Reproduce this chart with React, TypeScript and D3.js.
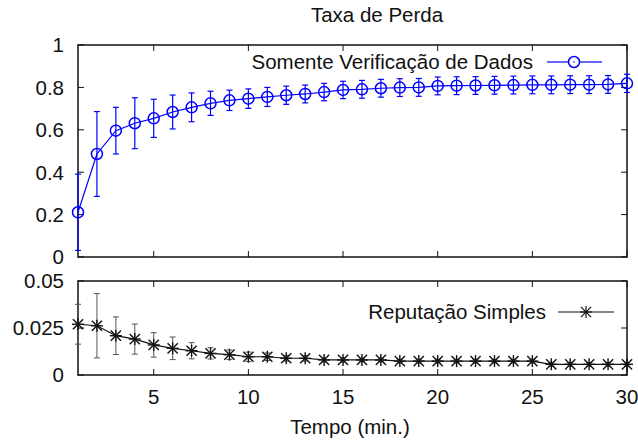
import React from "react";
import * as d3 from "d3";

// Minutes on the x axis
const minutes = [1, 2, 3, 4, 5, 6, 7, 8, 9, 10, 11, 12, 13, 14, 15, 16, 17, 18, 19, 20, 21, 22, 23, 24, 25, 26, 27, 28, 29, 30];

// "Somente Verificação de Dados": mean loss rate and error half-width
const verificacao = [0.211, 0.486, 0.596, 0.631, 0.654, 0.684, 0.706, 0.725, 0.739, 0.747, 0.755, 0.763, 0.769, 0.778, 0.788, 0.791, 0.796, 0.799, 0.800, 0.807, 0.808, 0.809, 0.810, 0.811, 0.812, 0.812, 0.813, 0.813, 0.814, 0.819];
const verificacaoErr = [0.18, 0.2, 0.11, 0.12, 0.09, 0.08, 0.068, 0.057, 0.048, 0.046, 0.045, 0.043, 0.042, 0.041, 0.041, 0.042, 0.042, 0.042, 0.042, 0.042, 0.042, 0.042, 0.042, 0.042, 0.042, 0.042, 0.042, 0.042, 0.042, 0.043];

// "Reputação Simples": mean loss rate and error half-width
const reputacao = [0.027, 0.0262, 0.0209, 0.0191, 0.016, 0.0142, 0.0129, 0.0115, 0.0108, 0.0097, 0.0097, 0.0089, 0.0089, 0.008, 0.008, 0.008, 0.008, 0.0074, 0.0074, 0.0074, 0.0074, 0.0074, 0.0074, 0.0074, 0.0074, 0.0057, 0.0057, 0.0057, 0.0057, 0.0057];
const reputacaoErr = [0.0106, 0.0171, 0.01, 0.008, 0.0065, 0.006, 0.0043, 0.003, 0.0025, 0.0025, 0.002, 0.0015, 0.0015, 0.0012, 0.0012, 0.001, 0.001, 0.001, 0.001, 0.001, 0.001, 0.001, 0.001, 0.001, 0.001, 0.001, 0.001, 0.001, 0.001, 0.001];

const xTicks = [5, 10, 15, 20, 25, 30];
const topTicks = [0, 0.2, 0.4, 0.6, 0.8, 1];
const bottomTicks = [0, 0.025, 0.05];

const W = 638;
const H = 441;
const FONT = "'Liberation Sans', Arial, Helvetica, sans-serif";
const FS = 20.5;
const TICK = 6;
const BLUE = "#0000ff";

const x = d3.scaleLinear().domain([1, 30]).range([78, 627]);
const yTop = d3.scaleLinear().domain([0, 1]).range([257, 45]);
const yBot = d3.scaleLinear().domain([0, 0.05]).range([375, 281]);

function Frame({ y, yTicks, fmt, showX }: { y: d3.ScaleLinear<number, number>; yTicks: number[]; fmt: (v: number) => string; showX: boolean }) {
  const [x0, x1] = x.range();
  const [yb, yt] = y.range();
  return (
    <g>
      <rect x={x0} y={yt} width={x1 - x0} height={yb - yt} fill="none" stroke="#111" strokeWidth={1.5} />
      {xTicks.map((t) => (
        <g key={"x" + t}>
          <line x1={x(t)} x2={x(t)} y1={yb} y2={yb - TICK} stroke="#111" />
          <line x1={x(t)} x2={x(t)} y1={yt} y2={yt + TICK} stroke="#111" />
          {showX && (
            <text x={x(t)} y={yb + 29} textAnchor="middle" fontSize={FS} fontFamily={FONT} fill="#111">
              {t}
            </text>
          )}
        </g>
      ))}
      {yTicks.map((t) => (
        <g key={"y" + t}>
          <line x1={x0} x2={x0 + TICK} y1={y(t)} y2={y(t)} stroke="#111" />
          <line x1={x1} x2={x1 - TICK} y1={y(t)} y2={y(t)} stroke="#111" />
          <text x={x0 - 14} y={y(t)} dy="0.36em" textAnchor="end" fontSize={FS} fontFamily={FONT} fill="#111">
            {fmt(t)}
          </text>
        </g>
      ))}
    </g>
  );
}

function ErrorBars({ vals, errs, y, color, width }: { vals: number[]; errs: number[]; y: d3.ScaleLinear<number, number>; color: string; width: number }) {
  return (
    <g stroke={color} strokeWidth={width} fill="none">
      {minutes.map((m, i) => {
        const cx = x(m);
        const lo = y(vals[i] - errs[i]);
        const hi = y(vals[i] + errs[i]);
        return (
          <g key={m}>
            <line x1={cx} x2={cx} y1={lo} y2={hi} />
            <line x1={cx - 3} x2={cx + 3} y1={lo} y2={lo} />
            <line x1={cx - 3} x2={cx + 3} y1={hi} y2={hi} />
          </g>
        );
      })}
    </g>
  );
}

function Star({ cx, cy, s }: { cx: number; cy: number; s: number }) {
  const d = s * 0.85;
  return (
    <g>
      <line x1={cx - s} x2={cx + s} y1={cy} y2={cy} />
      <line x1={cx} x2={cx} y1={cy - s} y2={cy + s} />
      <line x1={cx - d} x2={cx + d} y1={cy - d} y2={cy + d} />
      <line x1={cx - d} x2={cx + d} y1={cy + d} y2={cy - d} />
    </g>
  );
}

export default function App() {
  const lineTop = d3
    .line<number>()
    .x((_, i) => x(minutes[i]))
    .y((v) => yTop(v));
  const lineBot = d3
    .line<number>()
    .x((_, i) => x(minutes[i]))
    .y((v) => yBot(v));

  const fmt = (v: number) => d3.format("~g")(v);

  return (
    <svg width={W} height={H} style={{ position: "absolute", left: 0, top: 0, background: "#fff" }}>
      <rect width={W} height={H} fill="#fff" />
      <text x={377} y={22} textAnchor="middle" fontSize={FS} fontFamily={FONT} fill="#111">
        Taxa de Perda
      </text>

      {/* upper panel */}
      <Frame y={yTop} yTicks={topTicks} fmt={fmt} showX={false} />
      <ErrorBars vals={verificacao} errs={verificacaoErr} y={yTop} color={BLUE} width={1.2} />
      <path d={lineTop(verificacao) || ""} fill="none" stroke={BLUE} strokeWidth={1.2} />
      <g fill="none" stroke={BLUE} strokeWidth={1.5}>
        {verificacao.map((v, i) => (
          <circle key={i} cx={x(minutes[i])} cy={yTop(v)} r={5.5} />
        ))}
      </g>
      <text x={533} y={62} dy="0.36em" textAnchor="end" fontSize={FS} fontFamily={FONT} fill="#111">
        Somente Verificação de Dados
      </text>
      <g stroke={BLUE} strokeWidth={1.2} fill="none">
        <line x1={547} x2={568.5} y1={62} y2={62} />
        <line x1={579.5} x2={602} y1={62} y2={62} />
        <circle cx={574} cy={62} r={5.5} strokeWidth={1.5} />
      </g>
      <circle cx={574} cy={62} r={0.8} fill={BLUE} />

      {/* lower panel */}
      <Frame y={yBot} yTicks={bottomTicks} fmt={fmt} showX={true} />
      <ErrorBars vals={reputacao} errs={reputacaoErr} y={yBot} color="#555" width={1} />
      <path d={lineBot(reputacao) || ""} fill="none" stroke="#111" strokeWidth={1.2} />
      <g stroke="#111" strokeWidth={1.4}>
        {reputacao.map((v, i) => (
          <Star key={i} cx={x(minutes[i])} cy={yBot(v)} s={6} />
        ))}
      </g>
      <text x={546} y={312} dy="0.36em" textAnchor="end" fontSize={FS} fontFamily={FONT} fill="#111">
        Reputação Simples
      </text>
      <g stroke="#111" strokeWidth={1.2}>
        <line x1={558} x2={614} y1={312} y2={312} />
        <Star cx={586} cy={312} s={6} />
      </g>

      <text x={350} y={434} textAnchor="middle" fontSize={FS} fontFamily={FONT} fill="#111">
        Tempo (min.)
      </text>
    </svg>
  );
}
